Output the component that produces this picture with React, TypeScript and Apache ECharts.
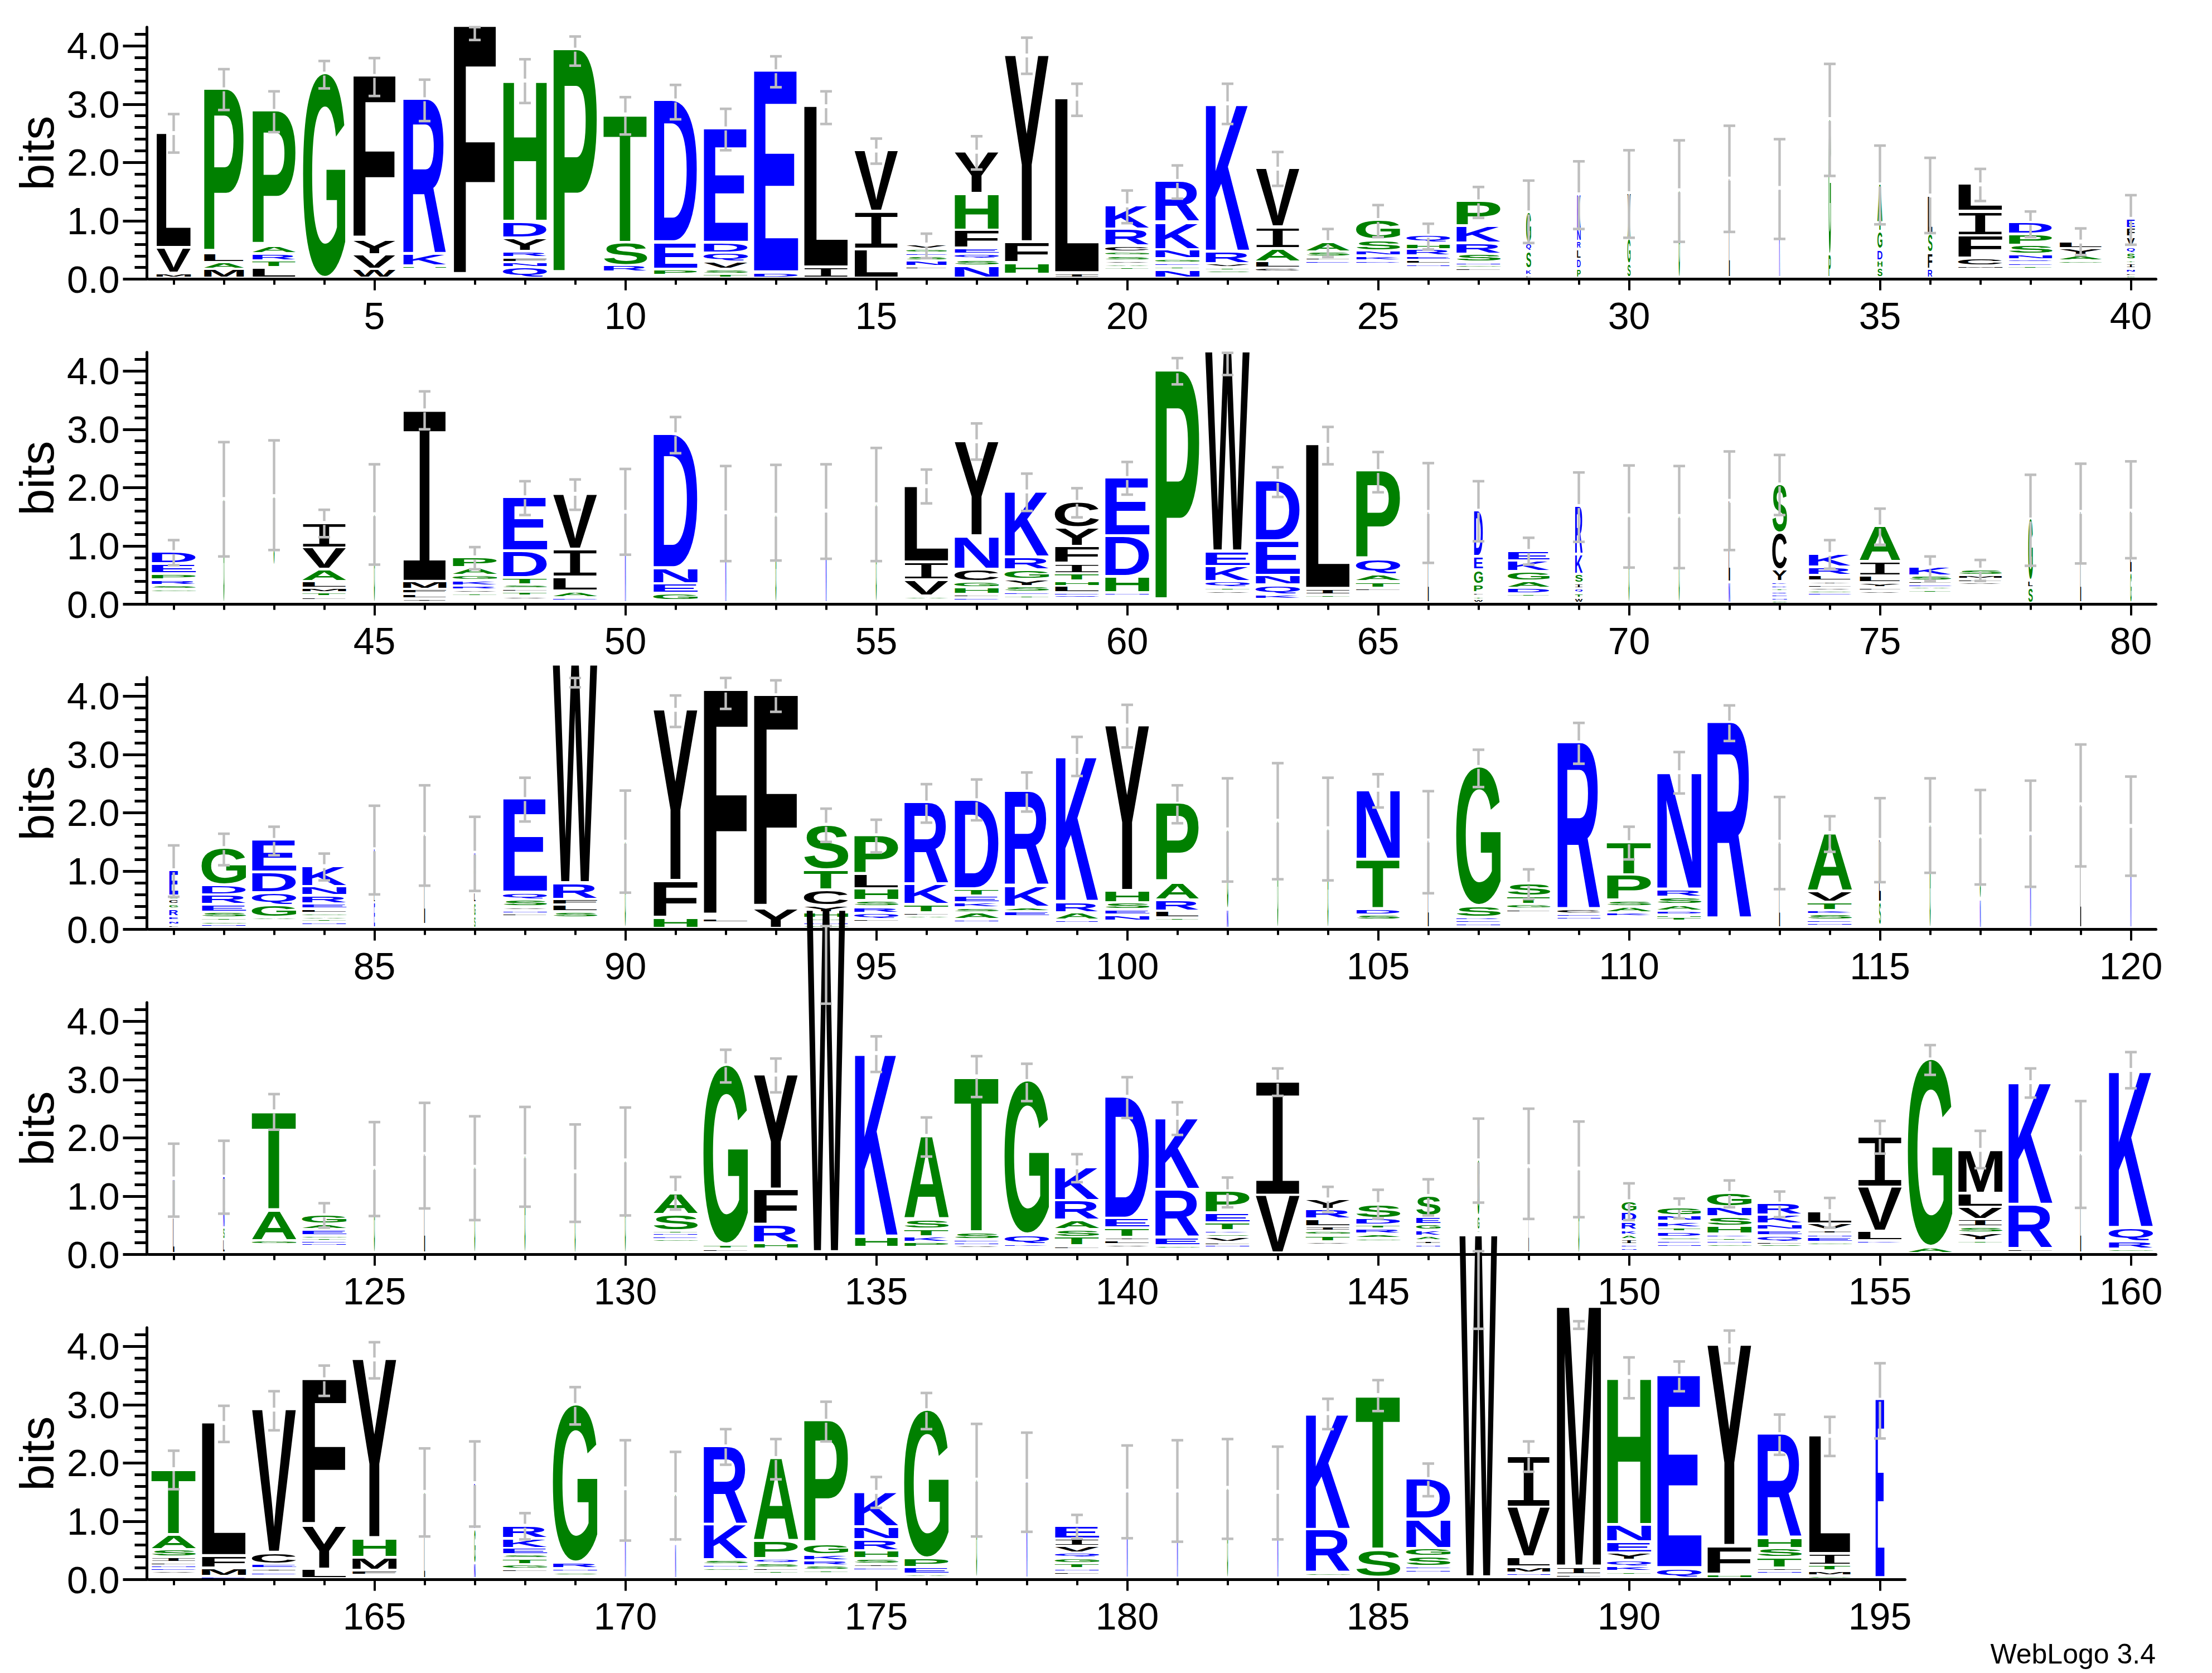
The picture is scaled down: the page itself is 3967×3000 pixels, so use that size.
import React, { useEffect, useRef } from 'react';
import * as echarts from 'echarts';

// every entry is one column of the logo, read bottom to top: residue + top of its glyph in bits.
// "_" stands for residues too small to see that still lift the stack.
const stacks: string[] = [
  // 1-40
  'M.08 V.52 L2.49', 'M.15 A.27 L.42 P3.24', 'L.18 T.30 R.42 A.55 P2.87', 'G3.51', 'W.15 V.40 Y.65 F3.47',
  '_.16 H.21 K.41 R3.07', 'F4.32', 'Q.18 N.27 F.35 R.46 Y.69 D.96 H3.39', '_.04 P3.92', '_.10 R.21 S.60 T2.81',
  '_.05 P.15 E.61 D3.05', 'T.07 S.15 V.28 Q.43 D.61 E2.57', 'D.09 E3.55', 'I.18 L2.95', 'L.50 I1.14 V2.19',
  '_.15 L.20 N.30 S.38 E.43 G.50 V.58', 'N.21 S.32 Q.41 E.51 F.82 H1.45 Y2.17', '_.07 H.26 F.61 Y3.82', 'I.08 L3.08', '_.15 T.19 A.24 V.30 S.38 G.45 C.55 R.84 K1.25',
  'N.14 T.20 E.26 G.33 N.49 K.96 R1.67', '_.08 S.13 T.18 V.25 R.45 K3.00', '_.10 C.17 L.28 A.51 I.87 V1.88', '_.25 E.30 L.36 S.45 A.62', '_.26 D.30 K.38 N.47 S.65 G1.00',
  '_.20 N.24 L.31 E.38 R.49 H.60 Q.73', '_.14 L.17 G.23 N.27 S.41 R.60 K.89 P1.32', 'L.05 K.16 S.46 Q.60 G1.13', 'P.16 D.32 L.49 R.63 N.84 K1.44', 'S.24 G.67 A1.00 V1.46',
  'G1.51', 'L1.71', 'K1.55', 'P.40 G2.73', 'S.17 H.30 D.49 G.80 T.94 A1.61',
  'R.15 F.43 S.76 L1.42', '_.17 M.21 C.34 F.73 I1.14 L1.61', '_.19 T.21 E.26 Q.32 N.41 S.56 P.75 D.95', '_.27 G.30 A.39 Y.51 L.63', 'G.05 L.09 N.16 I.25 T.31 S.43 Q.53 V.70 F.85 E1.02',
  // 41-80
  '_.20 G.24 S.31 R.40 P.51 E.68 D.88', 'G1.79', '_.65 G1.84', '_.08 L.11 T.18 M.26 L.37 A.58 V.95 I1.38', 'G1.53',
  '_.06 I.08 L.16 F.24 M.38 I3.31', '_.13 T.17 V.23 R.30 K.39 G.48 A.61 P.79', '_.09 V.12 T.19 L.25 S.32 T.44 D.90 E1.82', '_.06 E.10 A.21 L.45 I.93 V1.88', 'N1.57',
  '_.05 G.17 E.33 N.60 D2.90', 'N1.56', 'G1.52', 'N1.59', 'G1.70',
  '_.08 A.12 V.40 I.70 L2.01', '_.07 E.10 L.15 H.27 G.37 C.58 N1.15 Y2.78', '_.10 T.13 E.19 S.29 Y.41 G.57 R.78 K1.92', '_.10 Q.14 E.18 L.29 H.38 T.51 I.68 F.97 Y1.29 C1.74', '_.14 N.18 H.46 D1.15 E2.15',
  'P3.98', '_.16 V.21 T.27 Q.37 K.63 E.88 W4.31', '_.07 K.15 Q.31 N.48 E1.07 D2.10', '_.11 T.14 I.24 L2.72', '_.22 L.26 T.37 A.49 Q.75 P2.27',
  'L1.57', 'W.07 T.12 L.18 P.32 G.57 E.80 D1.59', '_.12 T.16 D.26 A.38 G.54 K.73 E.90', 'W.09 T.17 Q.25 I.34 S.50 K.84 R1.67', 'G1.51',
  'G1.50', 'N.36 L1.76', 'G.05 N.10 E.15 Q.20 T.26 D.31 K.37 Y.57 C1.20 S2.04', '_.14 E.18 G.22 V.27 F.32 Y.38 L.48 R.62 K.85', '_.18 V.21 F.27 Y.35 L.47 I.71 A1.32',
  '_.20 T.23 A.29 E.33 L.38 S.47 K.62', '_.33 V.36 L.41 M.48 S.58', 'S.27 L.38 G1.44', 'L1.57', 'G.52 L1.59',
  // 81-120
  'L.06 N.13 E.20 R.33 G.41 C.50 S.55 E1.00', '_.05 N.08 G.12 T.18 S.28 E.41 R.57 D.74 G1.38', '_.15 A.19 G.39 Q.61 D.96 E1.52', '_.08 N.11 T.16 A.20 G.26 L.33 E.42 R.56 N.72 K1.07', 'E.44 L.58 D1.36',
  '_.06 L1.62', 'S.20 G.44 L.62 T1.00 N1.30', '_.23 L.26 N.31 V.37 S.49 Q.61 E2.22', '_.18 S.29 L.40 F.50 R.77 W4.52', 'G1.49',
  'H.18 F.81 Y3.75', '_.10 L.17 F4.08', 'Y.33 F4.00', '_.02 G.06 N.11 A.17 H.27 Y.39 C.66 T1.00 S1.78', '_.12 F.16 Q.26 R.37 S.48 H.68 L.93 P1.60',
  '_.19 A.22 L.27 T.41 K.76 R2.16', '_.13 N.15 A.27 S.35 K.44 E.55 T.67 D2.20', '_.20 E.29 A.36 K.73 R2.35', '_.10 N.14 A.27 R.45 K2.96', '_.12 N.23 E.32 S.44 H.64 Y3.48',
  '_.12 T.18 L.30 R.49 A.78 P2.14', 'N.33 G1.70', 'G1.85', 'G1.72', '_.14 S.23 D.33 T1.18 N2.38',
  'L1.51', '_.05 N.09 E.15 R.19 S.38 G2.77', '_.30 L.33 G.41 T.55 S.77', '_.17 N.20 E.25 C.33 R3.19', '_.20 K.27 A.37 S.48 P.92 T1.48',
  '_.12 T.19 H.23 D.30 A.41 S.53 R.66 N2.68', '_.16 R3.53', 'L1.49', '_.06 N.10 E.14 S.24 K.31 T.45 V.64 A1.64', '_.05 S.44 L1.52',
  'G1.78', 'N.50 G1.58', 'N1.63', 'L2.13', 'N1.76',
  // 121-160
  'L.62 N1.29', 'L.24 S.44 N.80 E1.32', '_.15 G.22 A.74 T2.44', '_.14 N.18 E.22 T.27 G.31 E.41 A.50 G.66', 'G1.47',
  'L1.71', 'G1.49', 'G1.67', 'G1.41', 'G1.60',
  '_.20 G.25 E.30 N.35 T.39 S.67 A1.04', '_.05 L.08 T.15 G3.23', '_.08 H.18 R.49 F1.10 Y3.07', 'W5.88', '_.10 H.28 K3.44',
  '_.10 P.19 K.29 T.42 S.58 A2.02', '_.10 V.14 N.19 E.24 S.36 T3.04', '_.12 K.16 Q.32 G2.96', '_.10 L.13 T.28 S.41 A.57 R.90 K1.48', '_.10 V.15 L.22 I.28 T.44 E.60 D2.69',
  '_.10 G.13 E.27 R1.09 K2.33', '_.12 N.15 L.19 V.28 S.34 K.39 T.53 E.69 P1.07', 'V1.00 I2.95', '_.17 V.20 T.31 G.38 I.46 L.59 R.75 Y.93', '_.22 G.26 A.33 R.42 T.49 D.60 S.85',
  '_.11 N.15 I.22 A.30 K.40 G.50 E.63 S.99', '_.35 A.40 G.64 S1.60', 'L1.50', 'G1.46', '_.05 N.10 E.15 I.24 A.32 K.40 R.54 D.70 G.90',
  '_.12 N.16 E.22 S.28 D.37 T.44 K.55 N.65 G.79', '_.12 G.16 N.22 T.27 K.33 H.47 S.63 N.80 G1.04', '_.12 S.16 L.20 Q.31 E.40 N.51 K.66 R.86', '_.15 G.19 E.28 N.33 I.40 V.51 L.73', '_.16 K.22 L.38 V1.14 I2.00',
  'A.11 G3.33', '_.19 T.22 Y.35 S.46 I.58 V.79 L1.03 M1.78', '_.05 L.08 R.83 K2.94', 'L1.72', '_.05 G.08 R.21 Q.44 K3.15',
  // 161-195
  '_.09 V.13 E.18 N.23 L.28 I.37 S.50 A.75 T1.88', 'E.04 M.18 F.38 L2.67', '_.07 E.11 I.17 E.25 C.44 V2.90', 'L.16 Y.90 F3.42', '_.06 F.14 M.36 H.69 Y3.76',
  'L.72 G1.49', 'N.26 G.84 D1.64', '_.13 L.16 G.24 T.34 S.41 E.52 K.69 R.91', '_.07 S.11 N.17 R.27 G2.98', 'N1.55',
  'N.60 G1.45', '_.13 G.18 N.24 S.32 K.93 R2.27', '_.10 T.13 L.18 S.26 Q.34 P.64 A2.07', '_.12 T.14 S.22 R.31 K.41 G.59 P2.71', '_.16 E.19 I.25 S.34 H.48 R.67 N.89 K1.49',
  '_.03 A.08 E.19 P.34 G2.89', 'G1.70', 'N1.68', '_.09 L.12 N.17 T.26 G.35 Q.44 V.55 I.68 E.91', 'N1.51',
  'N1.51', 'G1.56', 'N1.49', '_.06 G.10 R.84 K2.84', '_.02 S.49 T3.15',
  '_.13 N.15 E.21 S.38 G.52 N1.02 D1.71', 'W5.87', '_.06 N.10 M.20 L.37 V1.23 I2.11', '_.02 L.07 I.19 M4.71', '_.08 T.12 K.21 Q.31 Y.44 E.63 N.92 H3.46',
  '_.01 Q.17 E3.48', 'H.07 F.55 Y4.00', '_.10 N.13 I.18 T.36 S.52 H.70 R2.48', '_.02 G.05 M.13 T.23 I.42 L2.45', 'E3.07',
];

// share of sequences without a gap, which sets the column width
const occupancy: number[] = [
  .78, .90, .98, .95, .96, .97, .96, .99, .99, .98, .98, 1, 1, 1, .99, .91, 1, 1, 1, .99,
  1, .99, .99, .98, .99, .98, 1, .11, .08, .07, .03, .02, .02, .05, .11, .10, 1, .98, .96, .18,
  1, .02, .02, .99, .02, .98, 1, 1, 1, .02, 1, .02, .02, .02, .02, 1, 1, 1, 1, 1,
  1, 1, 1, 1, 1, .02, .20, .94, .17, .02, .02, .03, .33, .95, .92, .95, .97, .10, .02, .03,
  .20, 1, 1, 1, .02, .02, .03, .99, 1, .02, 1, 1, 1, 1, 1, 1, 1, 1, .96, 1,
  .97, .03, .02, .02, .98, .02, 1, .97, .97, 1, 1, 1, .02, 1, .04, .02, .02, .02, .02, .02,
  .03, .03, 1, 1, .02, .02, .02, .02, .02, .02, 1, 1, 1, .87, .97, 1, 1, 1, 1, 1,
  1, 1, 1, 1, 1, .55, .04, .01, .02, .33, .97, 1, 1, 1, 1, 1, 1, 1, .02, 1,
  1, 1, 1, 1, 1, .02, .03, 1, 1, .02, .02, 1, 1, 1, 1, 1, .02, .02, 1, .02,
  .02, .02, .02, 1, 1, 1, .85, .97, 1, 1, 1, 1, 1, .94, .20,
];

const errorHigh: number[] = [
  2.83, 3.60, 3.22, 3.74, 3.79, 3.42, 4.32, 3.77, 4.16, 3.12, 3.33, 2.92, 3.82, 3.22, 2.41, .78, 2.45, 4.14, 3.35, 1.52,
  1.95, 3.35, 2.18, .86, 1.27, .95, 1.58, 1.69, 2.02, 2.21, 2.38, 2.63, 2.40, 3.69, 2.29, 2.08, 1.89, 1.16, .87, 1.44,
  1.10, 2.78, 2.81, 1.62, 2.40, 3.65, .98, 2.11, 2.14, 2.32, 3.21, 2.37, 2.39, 2.40, 2.68, 2.31, 3.10, 2.24, 1.99, 2.44,
  4.22, 4.31, 2.35, 3.04, 2.61, 2.42, 2.11, 1.14, 2.26, 2.38, 2.37, 2.62, 2.56, 1.10, 1.64, .82, .76, 2.22, 2.41, 2.45,
  1.44, 1.64, 1.76, 1.30, 2.12, 2.47, 1.93, 2.60, 4.31, 2.38, 4.01, 4.31, 4.27, 2.07, 1.88, 2.49, 2.57, 2.69, 3.30, 3.85,
  2.47, 2.59, 2.85, 2.60, 2.66, 2.37, 3.08, 1.03, 3.54, 1.76, 3.04, 3.84, 2.27, 1.94, 2.25, 2.59, 2.39, 2.55, 3.17, 2.62,
  1.90, 1.95, 2.75, .88, 2.27, 2.60, 2.37, 2.53, 2.23, 2.52, 1.33, 3.51, 3.36, 5.63, 3.74, 2.35, 3.40, 3.27, 1.72, 3.04,
  2.61, 1.32, 3.19, 1.16, 1.11, 1.29, 2.33, 2.50, 2.28, 1.22, .96, 1.27, 1.08, .97, 2.29, 3.59, 2.12, 3.19, 2.63, 3.47,
  2.21, 2.98, 3.23, 3.67, 4.07, 2.25, 2.37, 1.14, 3.30, 2.39, 2.19, 2.58, 2.41, 3.05, 1.76, 3.20, 2.67, 2.52, 1.11, 2.30,
  2.39, 2.41, 2.28, 3.10, 3.42, 1.99, 5.63, 2.37, 4.43, 3.81, 3.74, 4.27, 2.83, 2.79, 3.71,
];

const errorLow: number[] = [
  2.17, 2.90, 2.52, 3.27, 3.14, 2.71, 4.10, 3.02, 3.66, 2.48, 2.74, 2.21, 3.29, 2.66, 1.98, .36, 1.88, 3.52, 2.80, .96,
  1.38, 2.66, 1.60, .38, .72, .51, 1.05, .62, .86, .71, .64, .81, .69, 1.77, .94, .79, 1.34, .72, .41, .59,
  .67, .82, .93, 1.15, .68, 3.00, .60, 1.53, 1.62, .85, 2.59, .74, .75, .78, .74, 1.73, 2.48, 1.60, 1.49, 1.88,
  3.77, 3.93, 1.84, 2.40, 1.92, .71, 1.08, .68, 1.07, .63, .62, .93, 1.53, .61, 1.02, .40, .40, .66, .70, .79,
  .56, 1.10, 1.27, .84, .60, .75, .66, 1.85, 4.15, .63, 3.47, 3.78, 3.73, 1.50, 1.32, 1.83, 1.87, 2.02, 2.63, 3.12,
  1.82, .82, .86, .84, 2.09, .62, 2.44, .52, 2.84, 1.20, 2.33, 3.23, .69, 1.33, .81, .97, .77, .73, 1.08, .92,
  .65, .70, 2.14, .46, .66, .79, .59, .82, .56, .67, .77, 2.95, 2.78, 4.30, 3.13, 1.68, 2.70, 2.63, 1.24, 2.34,
  2.05, .81, 2.72, .73, .62, .67, .89, .61, .64, .59, .62, .81, .64, .46, 1.73, 3.08, 1.48, 2.69, .80, 2.85,
  1.55, 2.36, 2.56, 3.15, 3.45, .74, .91, .69, 2.66, .67, .69, 1.97, 1.72, 2.37, 1.23, 2.58, .74, .82, .71, .71,
  .65, .70, .69, 2.58, 2.89, 1.43, 4.30, 1.85, 4.30, 3.11, 3.23, 3.71, 2.14, 2.12, 2.42,
];

const rowStarts = [0, 40, 80, 120, 160];
const rowEnds = [40, 80, 120, 160, 195];
const majorBits = [0, 1, 2, 3, 4];
const minorBits = [.2, .4, .6, .8, 1.2, 1.4, 1.6, 1.8, 2.2, 2.4, 2.6, 2.8, 3.2, 3.4, 3.6, 3.8, 4.2];

const BLUE = 'KRNDEQ';
const GREEN = 'GSTPAH';
const letterColor = (l: string) => (BLUE.includes(l) ? '#0000ff' : GREEN.includes(l) ? '#008000' : '#000000');

const FONT = '"Liberation Sans", Arial, sans-serif';
const I_FONT = '"Liberation Mono", monospace';
const GLYPH_PX = 100;
const LETTER_GAP = 4.6; // px of white under each glyph
const FULL_WIDTH = 0.889; // widest column, in positions

const glyphFont = (l: string) =>
  l === 'I'
    ? { fontFamily: I_FONT, fontWeight: 'normal' }
    : { fontFamily: FONT, fontWeight: 'bold' };

// ink box of a glyph around the svg "central" baseline, needed to stretch it onto its slot
const inkCache: Record<string, { left: number; right: number; asc: number; desc: number }> = {};
const inkOf = (l: string) => {
  if (!inkCache[l]) {
    const ctx = document.createElement('canvas').getContext('2d')!;
    const f = glyphFont(l);
    ctx.font = `${f.fontWeight} ${GLYPH_PX}px ${f.fontFamily}`;
    ctx.textAlign = 'left';
    ctx.textBaseline = 'alphabetic';
    const m = ctx.measureText(l);
    const central = (m.fontBoundingBoxAscent - m.fontBoundingBoxDescent) / 2;
    inkCache[l] = {
      left: m.actualBoundingBoxLeft,
      right: m.actualBoundingBoxRight,
      asc: m.actualBoundingBoxAscent - central,
      desc: m.actualBoundingBoxDescent + central,
    };
  }
  return inkCache[l];
};

interface Glyph {
  pos: number;
  bottom: number;
  top: number;
  width: number;
  letter: string;
}

const glyphsFor = (from: number, to: number): Glyph[] => {
  const out: Glyph[] = [];
  for (let i = from; i < to; i++) {
    let bottom = 0;
    stacks[i].split(' ').forEach((t) => {
      const top = parseFloat(t.slice(1));
      if (t[0] !== '_') out.push({ pos: i + 1, bottom, top, width: occupancy[i], letter: t[0] });
      bottom = top;
    });
  }
  return out;
};

const stackTop = (i: number) => {
  const parts = stacks[i].split(' ');
  return parseFloat(parts[parts.length - 1].slice(1));
};

const App: React.FC = () => {
  const chartRef = useRef<HTMLDivElement | null>(null);

  useEffect(() => {
    if (!chartRef.current) return;
    const myChart = echarts.init(chartRef.current, null, { renderer: 'svg' });

    const grid: any[] = [];
    const xAxis: any[] = [];
    const yAxis: any[] = [];
    const series: any[] = [];

    rowStarts.forEach((start, r) => {
      const end = rowEnds[r];
      grid.push({ left: 266.5, top: 48.7 + 583 * r, width: (end - start) * 90, height: 451.9, outerBoundsMode: 'none' });

      const positions: number[] = [];
      for (let p = start + 1; p <= end; p++) positions.push(p);
      const fives = positions.filter((p) => p % 5 === 0);

      const xBase = { type: 'value', gridIndex: r, min: start + 0.5, max: end + 0.5, position: 'bottom', splitLine: { show: false } };
      xAxis.push({
        ...xBase,
        axisLine: { show: true, onZero: false, lineStyle: { color: '#000', width: 5 } },
        axisTick: { show: true, customValues: positions, length: 10, lineStyle: { color: '#000', width: 4 } },
        axisLabel: { show: false },
      });
      xAxis.push({
        ...xBase,
        axisLine: { show: false, onZero: false },
        axisTick: { show: true, customValues: fives, length: 20, lineStyle: { color: '#000', width: 4 } },
        axisLabel: { show: true, customValues: fives, margin: 31, fontSize: 68, fontFamily: FONT, color: '#000', formatter: (v: number) => String(v) },
      });

      const yBase = { type: 'value', gridIndex: r, min: 0, max: 4.32, position: 'left', offset: 3, splitLine: { show: false } };
      yAxis.push({
        ...yBase,
        name: 'bits',
        nameLocation: 'middle',
        nameGap: 146,
        nameRotate: 90,
        nameTextStyle: { fontSize: 86, fontFamily: FONT, color: '#000' },
        axisLine: { show: true, onZero: false, lineStyle: { color: '#000', width: 5 } },
        axisTick: { show: true, customValues: majorBits, length: 43, lineStyle: { color: '#000', width: 5 } },
        axisLabel: { show: true, customValues: majorBits, margin: 49, fontSize: 68, fontFamily: FONT, color: '#000', formatter: (v: number) => v.toFixed(1) },
      });
      yAxis.push({
        ...yBase,
        axisLine: { show: false, onZero: false },
        axisTick: { show: true, customValues: minorBits, length: 22, lineStyle: { color: '#000', width: 5 } },
        axisLabel: { show: false },
      });

      const glyphs = glyphsFor(start, end);
      series.push({
        type: 'custom',
        coordinateSystem: 'cartesian2d',
        xAxisIndex: r * 2,
        yAxisIndex: r * 2,
        clip: false,
        silent: true,
        data: glyphs.map((g) => [g.pos, g.bottom, g.top, g.width]),
        encode: { x: 0, y: 2 },
        renderItem: (params: any, api: any) => {
          const g = glyphs[params.dataIndex];
          const [cx, yTop] = api.coord([g.pos, g.top]);
          const [, yBottom] = api.coord([g.pos, g.bottom]);
          const w = api.size([g.width * FULL_WIDTH, 0])[0];
          const h = Math.max(yBottom - LETTER_GAP - yTop, 1.5);
          const ink = inkOf(g.letter);
          const scaleX = w / (ink.left + ink.right);
          const scaleY = h / (ink.asc + ink.desc);
          return {
            type: 'text',
            x: cx - w / 2 + ink.left * scaleX,
            y: yTop + ink.asc * scaleY,
            scaleX,
            scaleY,
            silent: true,
            style: {
              text: g.letter,
              x: 0,
              y: 0,
              fontSize: GLYPH_PX,
              ...glyphFont(g.letter),
              fill: letterColor(g.letter),
              align: 'left',
              verticalAlign: 'middle',
            },
          };
        },
      });

      const indices = positions.map((p) => p - 1);
      series.push({
        type: 'custom',
        coordinateSystem: 'cartesian2d',
        xAxisIndex: r * 2,
        yAxisIndex: r * 2,
        clip: false,
        silent: true,
        data: indices.map((i) => [i + 1, errorLow[i], errorHigh[i]]),
        encode: { x: 0, y: 2 },
        renderItem: (params: any, api: any) => {
          const i = indices[params.dataIndex];
          const [cx, yHigh] = api.coord([i + 1, errorHigh[i]]);
          const [, yLow] = api.coord([i + 1, errorLow[i]]);
          const [, yStack] = api.coord([i + 1, stackTop(i)]);
          const bar = (y0: number, y1: number) => ({
            type: 'rect',
            shape: { x: cx - 2.2, y: y0, width: 4.4, height: Math.max(y1 - y0, 0) },
            style: { fill: '#bebebe' },
          });
          const cap = (y: number) => ({
            type: 'rect',
            shape: { x: cx - 10.5, y: y - 2.3, width: 21, height: 4.6 },
            style: { fill: '#bebebe' },
          });
          // the stroke breaks just above the top of the stack
          const broken = yStack - 5 > yHigh && yStack + 2 < yLow;
          const parts = broken ? [bar(yHigh, yStack - 5), bar(yStack + 2, yLow)] : [bar(yHigh, yLow)];
          return { type: 'group', silent: true, children: [...parts, cap(yHigh), cap(yLow)] };
        },
      });
    });

    const option = {
      animation: false,
      backgroundColor: '#ffffff',
      tooltip: { show: false },
      grid,
      xAxis,
      yAxis,
      series,
      graphic: [
        {
          type: 'text',
          x: 3866,
          y: 2966,
          style: { text: 'WebLogo 3.4', fontSize: 50, fontFamily: FONT, fill: '#000', align: 'right', verticalAlign: 'middle' },
        },
      ],
    };

    myChart.setOption(option);

    return () => {
      myChart.dispose();
    };
  }, []);

  // opacity just under 1 keeps hairline glyphs from getting coloured subpixel fringes
  return <div ref={chartRef} style={{ position: 'absolute', left: 0, top: 0, width: 3967, height: 3000, opacity: 0.999 }}></div>;
};

export default App;
